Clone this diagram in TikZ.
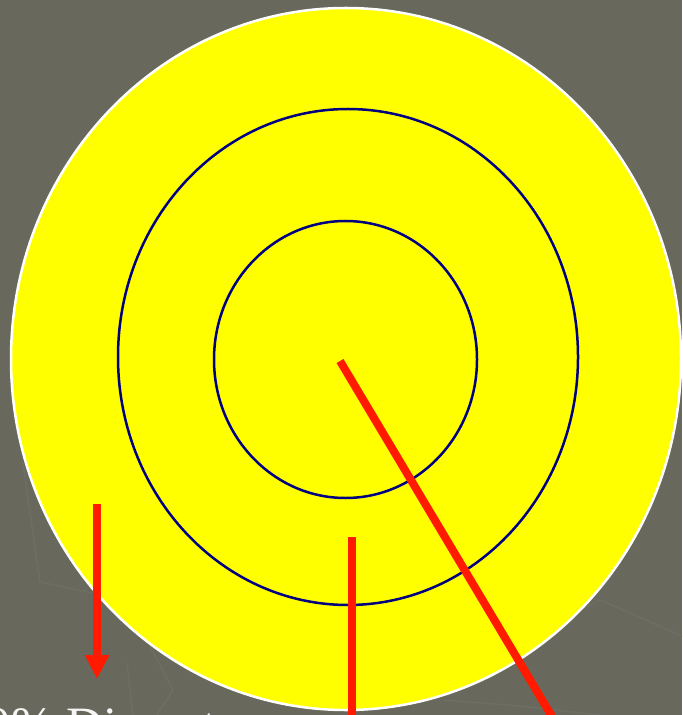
\documentclass[tikz,border=0pt]{standalone}
\usepackage{fontspec}
\setmainfont{Liberation Serif}
\usetikzlibrary{arrows.meta}
\definecolor{slate}{RGB}{104,104,92}
\definecolor{faint}{RGB}{110,110,100}
\definecolor{navyring}{RGB}{0,0,128}
\definecolor{pointer}{RGB}{255,26,0}
\definecolor{target}{RGB}{255,255,0}

\begin{document}
\begin{tikzpicture}[x={(0.02cm,0cm)},y={(0cm,-0.02cm)},
  ring/.style={draw=navyring, line width=0.05cm},
  pointer/.style={draw=pointer, line width=0.16cm},
  every node/.style={inner sep=0pt, outer sep=0pt}]
\useasboundingbox (0,0) rectangle (682,715);
\clip (0,0) rectangle (682,715);
\fill[slate] (0,0) rectangle (682,715);

% faint background pattern
\draw[faint, line width=0.03cm] (23,463) -- (40,582) -- (92,593);
\draw[faint, line width=0.03cm] (127,663) -- (133,715);
\draw[faint, line width=0.03cm] (147,640) -- (173,690) -- (157,715);
\draw[faint, line width=0.03cm] (560,620) -- (600,600) -- (682,636);
\draw[faint, line width=0.03cm] (443,700) -- (520,706) -- (600,715);

% target
\filldraw[fill=target, draw=white, line width=0.05cm] (346,359) ellipse [x radius=335, y radius=351];
\draw[ring] (348,357) ellipse [x radius=230, y radius=248];
\draw[ring] (345.5,359.5) ellipse [x radius=131.5, y radius=138.5];

% pointers
\coordinate (outerTop) at (97,504);
\coordinate (outerTip) at (97,679);
\coordinate (midTop) at (352,537);
\coordinate (midEnd) at (352,725);
\coordinate (hub) at (340,361);
\coordinate (rim) at (557,725);
\draw[pointer, -{Triangle[length=0.48cm, width=0.46cm]}] (outerTop) -- (outerTip);
\draw[pointer] (midTop) -- (midEnd);
\draw[pointer] (hub) -- (rim);

\node[anchor=base west, text=white!94!slate] (caption) at (-14,742)
  {\fontsize{29}{34}\selectfont 0\% Diameter};
\end{tikzpicture}
\end{document}
